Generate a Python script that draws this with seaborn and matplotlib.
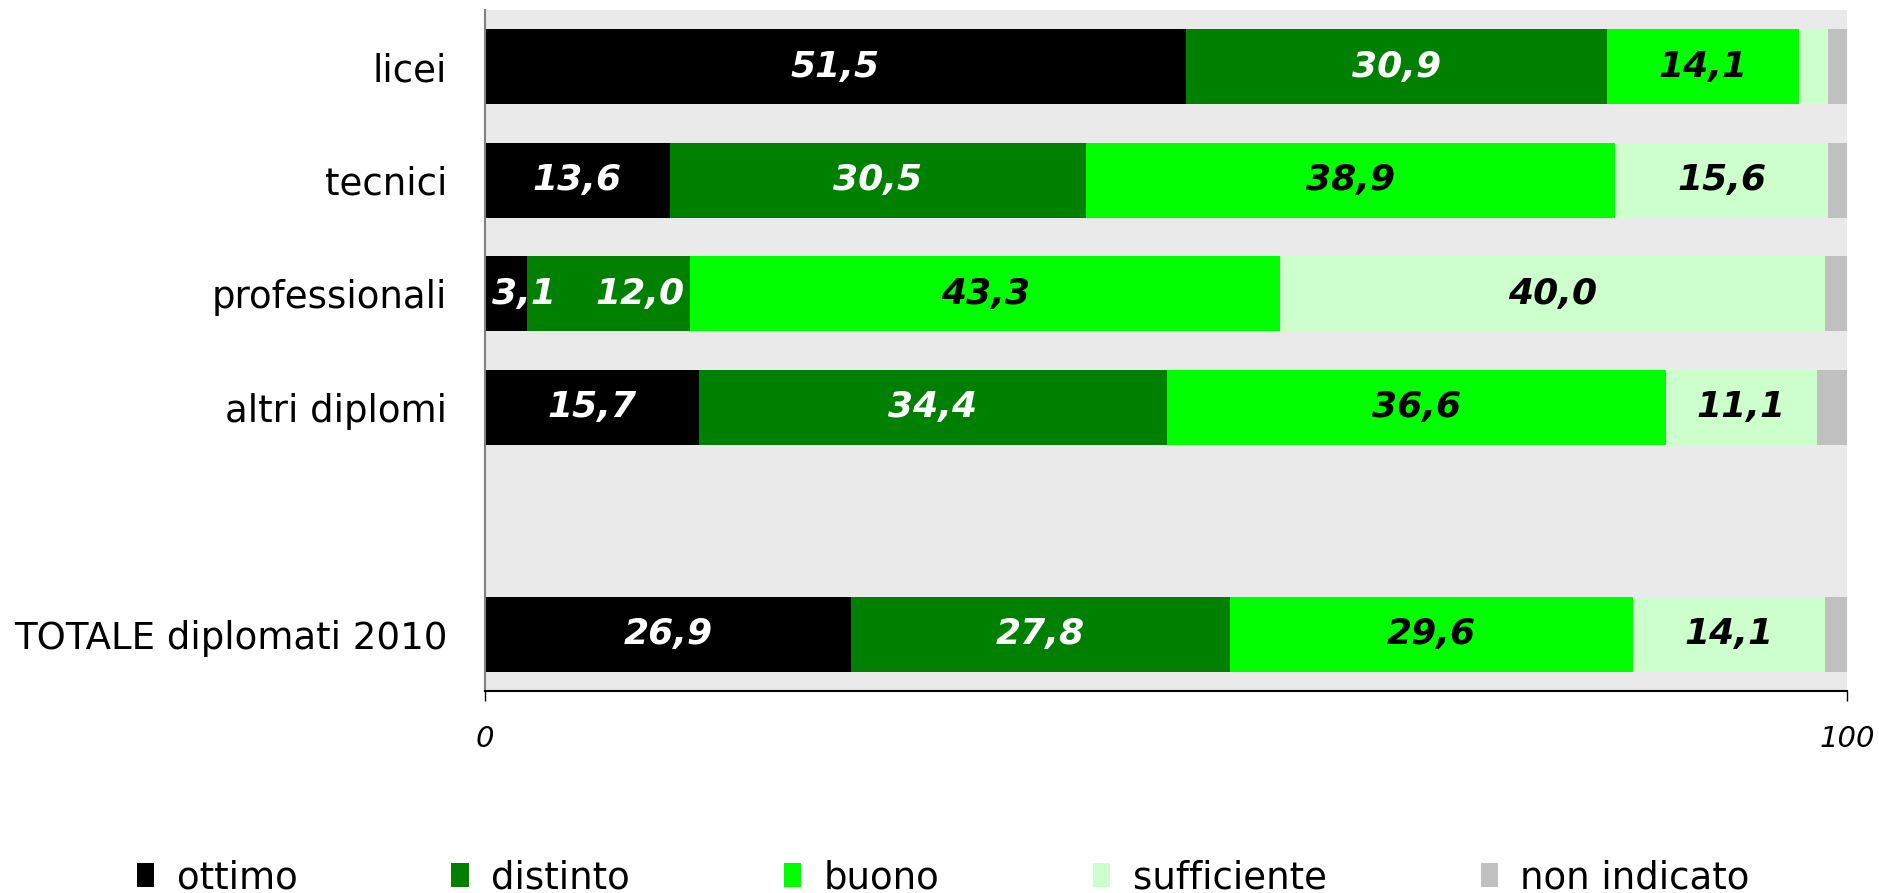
import numpy as np
import pandas as pd
import seaborn as sns
import matplotlib.pyplot as plt
from matplotlib.patches import Patch

categories = ["licei", "tecnici", "professionali", "altri diplomi", "TOTALE diplomati 2010"]
slots = ["licei", "tecnici", "professionali", "altri diplomi", "", "TOTALE diplomati 2010"]

series = ["ottimo", "distinto", "buono", "sufficiente", "non indicato"]
ottimo = [51.5, 13.6, 3.1, 15.7, 26.9]
distinto = [30.9, 30.5, 12.0, 34.4, 27.8]
buono = [14.1, 38.9, 43.3, 36.6, 29.6]
sufficiente = [2.1, 15.6, 40.0, 11.1, 14.1]
non_indicato = [1.4, 1.4, 1.6, 2.2, 1.6]

colors = ["#000000", "#008000", "#00FF00", "#CCFFCC", "#C0C0C0"]
label_colors = ["white", "white", "black", "black", "black"]

df = pd.DataFrame({"cat": categories, "ottimo": ottimo, "distinto": distinto,
                   "buono": buono, "sufficiente": sufficiente,
                   "non indicato": non_indicato})
cum = df[series].cumsum(axis=1)

# labels that were pushed aside in the original to avoid overlapping
nudge = {("professionali", "ottimo"): 1.35, ("professionali", "distinto"): 2.3}

sns.set_style("white")
plt.rcParams["font.family"] = ["DejaVu Sans"]

fig = plt.figure(figsize=(18.79, 8.93), dpi=100)
ax = fig.add_axes([0.258, 0.226, 0.725, 0.763])
ax.set_facecolor("#EAEAEA")

# stacked by overdrawing cumulative totals, widest first
for s, c in reversed(list(zip(series, colors))):
    sns.barplot(x=cum[s], y=df["cat"], order=slots, color=c, width=0.66,
                orient="h", linewidth=0, saturation=1, ax=ax)

for i, cat in enumerate(categories):
    pos = slots.index(cat)
    for j, s in enumerate(series):
        v = df.loc[i, s]
        if v < 3:
            continue
        xc = cum.loc[i, s] - v / 2 + nudge.get((cat, s), 0)
        ax.text(xc, pos, f"{v:.1f}".replace(".", ","), ha="center", va="center",
                color=label_colors[j], fontsize=26, fontweight="bold", style="italic")

ax.set_xlim(0, 100)
ax.set_ylim(5.5, -0.5)
ax.set_xlabel("")
ax.set_ylabel("")
ax.set_xticks([0, 100])
ax.set_xticklabels(["0", "100"], fontsize=21, style="italic",
                   family=["Liberation Sans Narrow", "DejaVu Sans"])
ax.tick_params(axis="x", direction="out", length=7, width=1, color="black", pad=17,
               bottom=True, labelcolor="black")
ax.tick_params(axis="y", length=0, pad=27, labelsize=26.7, labelcolor="black")

for sp in ["top", "right"]:
    ax.spines[sp].set_visible(False)
ax.spines["left"].set_color("#808080")
ax.spines["left"].set_linewidth(1.5)
ax.spines["bottom"].set_color("black")
ax.spines["bottom"].set_linewidth(1.5)

handles = [Patch(facecolor=c, edgecolor="none") for c in colors]
leg = fig.legend(handles, series, loc="center", bbox_to_anchor=(0.502, 0.017), ncol=5,
                 frameon=False, fontsize=26.7, handlelength=0.47, handleheight=0.6,
                 handletextpad=0.6, columnspacing=4.15)
for t in leg.get_texts():
    t.set_color("black")

fig.savefig("out.png", dpi=100)
